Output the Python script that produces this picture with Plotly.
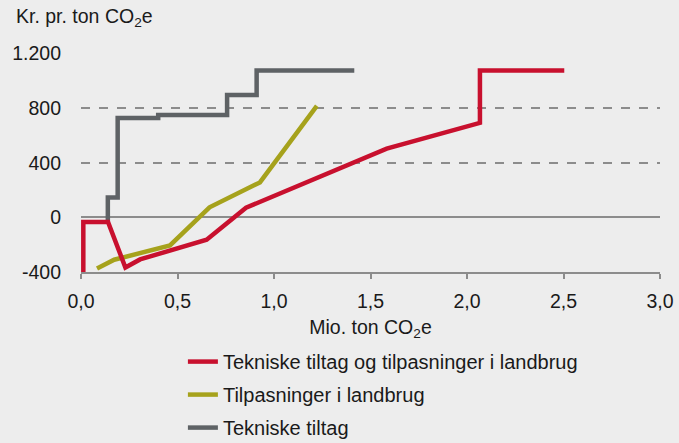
import plotly.graph_objects as go

# Marginal abatement cost curves
red_x = [0.012, 0.012, 0.14, 0.23, 0.306, 0.651, 0.855, 1.584, 2.067, 2.067, 2.504]
red_y = [-400, -33, -33, -367, -308, -163, 71, 504, 692, 1075, 1075]

olive_x = [0.083, 0.172, 0.461, 0.666, 0.927, 1.222]
olive_y = [-375, -310, -205, 74, 256, 817]

gray_x = [0.139, 0.139, 0.19, 0.19, 0.40, 0.40, 0.757, 0.757, 0.91, 0.91, 1.416]
gray_y = [-30, 145, 145, 728, 728, 750, 750, 897, 897, 1075, 1075]

names = ["Tekniske tiltag og tilpasninger i landbrug",
         "Tilpasninger i landbrug",
         "Tekniske tiltag"]
colors = ["#C8102E", "#A6A21C", "#5E6265"]

x_ticks = [0, 0.5, 1.0, 1.5, 2.0, 2.5, 3.0]
x_tick_labels = ["0,0", "0,5", "1,0", "1,5", "2,0", "2,5", "3,0"]
y_ticks = [-400, 0, 400, 800, 1200]
y_tick_labels = ["-400", "0", "400", "800", "1.200"]

FONT = "Liberation Sans, Arial, sans-serif"
BG = "#EDEDED"
GRID = "#8C8C8C"
FS = 19.5

fig = go.Figure()
# gray first so red is drawn on top; legendrank puts red first in the legend
for i, (xs, ys) in enumerate([(gray_x, gray_y), (olive_x, olive_y), (red_x, red_y)]):
    idx = 2 - i
    fig.add_trace(go.Scatter(
        x=xs, y=ys, mode="lines", name=names[idx],
        legendgroup=str(idx), legendrank=idx + 1,
        line=dict(color=colors[idx], width=4.5),
    ))

fig.update_layout(
    width=679, height=443,
    margin=dict(l=81, r=19, t=53, b=171, autoexpand=False),
    paper_bgcolor=BG, plot_bgcolor=BG,
    font=dict(family=FONT, size=FS, color="#1A1A1A"),
    showlegend=True,
    legend=dict(
        x=0.176, xanchor="left", y=-0.32, yanchor="top",
        bgcolor="rgba(0,0,0,0)", traceorder="grouped",
        tracegroupgap=4, font=dict(size=20),
    ),
    xaxis=dict(
        range=[0, 3], tickvals=x_ticks, ticktext=x_tick_labels,
        showgrid=False, zeroline=False, automargin=False,
        showline=True, linecolor=GRID, linewidth=2,
        ticks="outside", ticklen=5, tickwidth=2, tickcolor=GRID,
        ticklabelstandoff=6,
        title=dict(text="Mio. ton CO<sub>2</sub>e", standoff=9, font=dict(size=FS)),
    ),
    yaxis=dict(
        range=[-400, 1204], tickvals=y_ticks, ticktext=y_tick_labels,
        showgrid=True, gridcolor=GRID, gridwidth=1.5, griddash="dash",
        zeroline=True, zerolinecolor=GRID, zerolinewidth=2, automargin=False,
        showline=False, ticks="", ticklabelstandoff=19,
    ),
    annotations=[dict(
        text="Kr. pr. ton CO<sub>2</sub>e", xref="paper", yref="paper",
        x=-0.116, y=1.16, xanchor="left", yanchor="middle",
        showarrow=False, font=dict(size=FS),
    )],
)

fig.write_html("out.html", config={"displayModeBar": False},
               post_script="document.body.style.margin='0';")
